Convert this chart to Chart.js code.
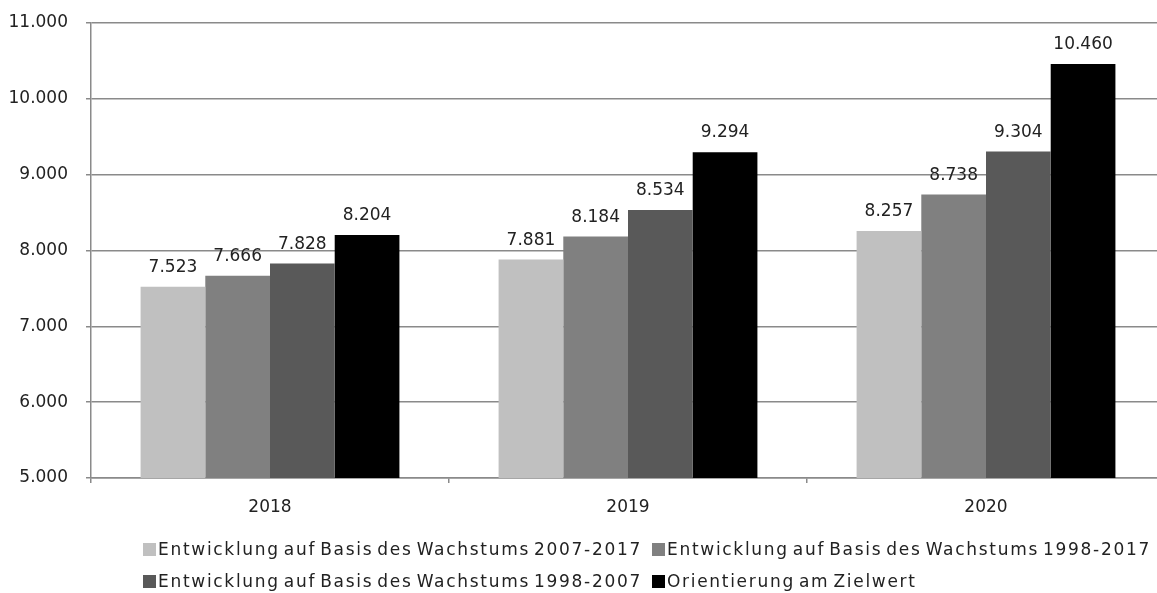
<!DOCTYPE html>
<html>
<head>
<meta charset="utf-8">
<script src="https://cdn.jsdelivr.net/npm/chart.js@4.4.1/dist/chart.umd.min.js"></script>
<style>
  html, body { margin: 0; padding: 0; background: #fff; overflow: hidden; }
  #wrap { position: relative; width: 1157px; height: 593px; overflow: hidden; }
  #legend {
    position: absolute; left: 143px; top: 539px;
    display: grid; grid-template-columns: 509px auto; row-gap: 12px;
    font-family: "DejaVu Sans", sans-serif; font-size: 17px; color: #222;
    letter-spacing: 1.7px; word-spacing: -3px;
  }
  .item { display: flex; align-items: center; height: 20px; white-space: nowrap; }
  .box { width: 13px; height: 13px; margin-right: 2px; }
</style>
</head>
<body>
<div id="wrap">
  <canvas id="graph01" width="1168" height="593"></canvas>
  <div id="legend"></div>
</div>
<script>
const years = ["2018", "2019", "2020"];
const seriesNames = [
  "Entwicklung auf Basis des Wachstums 2007-2017",
  "Entwicklung auf Basis des Wachstums 1998-2017",
  "Entwicklung auf Basis des Wachstums 1998-2007",
  "Orientierung am Zielwert",
];
const growth0717 = [7523, 7881, 8257];
const growth9817 = [7666, 8184, 8738];
const growth9807 = [7828, 8534, 9304];
const targetValue = [8204, 9294, 10460];
const barColors = ["#c0c0c0", "#808080", "#595959", "#000000"];

const fmt = (v) => v.toLocaleString("de-DE");

// value above every bar, like excel "outside end"
const valueLabels = {
  id: "valueLabels",
  afterDatasetsDraw(chart) {
    const ctx = chart.ctx;
    ctx.save();
    ctx.font = "17px 'DejaVu Sans'";
    ctx.fillStyle = "#222";
    ctx.textAlign = "center";
    ctx.textBaseline = "alphabetic";
    chart.data.datasets.forEach((ds, i) => {
      chart.getDatasetMeta(i).data.forEach((bar, j) => {
        ctx.fillText(fmt(ds.data[j]), bar.x, bar.y - 15);
      });
    });
    ctx.restore();
  },
};

const graph01 = document.getElementById("graph01");
const myChart01 = new Chart(graph01, {
  type: "bar",
  data: {
    labels: years,
    datasets: [growth0717, growth9817, growth9807, targetValue].map((d, i) => ({
      label: seriesNames[i],
      data: d,
      backgroundColor: barColors[i],
      borderWidth: 0,
      barPercentage: 1.0,
      categoryPercentage: 0.723,
    })),
  },
  options: {
    responsive: false,
    animation: false,
    layout: { padding: { top: 23, right: 3, bottom: 72, left: 0 } },
    plugins: {
      legend: { display: false },
      tooltip: { enabled: false },
    },
    scales: {
      x: {
        grid: { drawOnChartArea: false, drawTicks: true, tickLength: 5, color: "#8a8a8a", lineWidth: 1.5 },
        border: { color: "#8a8a8a", width: 1.5 },
        ticks: { color: "#222", font: { family: "DejaVu Sans", size: 17 }, padding: 14 },
        afterFit: (scale) => { scale.height = 43; },
      },
      y: {
        min: 5000,
        max: 11000,
        grid: { color: "#8a8a8a", lineWidth: 1.5, tickLength: 5 },
        border: { color: "#8a8a8a", width: 1.5 },
        ticks: {
          stepSize: 1000,
          color: "#222",
          font: { family: "DejaVu Sans", size: 17 },
          padding: 18,
          callback: (v) => fmt(v),
        },
        afterFit: (scale) => {
          scale.width = 91;
          // tick padding would otherwise push the plot top down
          scale.paddingTop = 0;
          scale.paddingBottom = 0;
        },
      },
    },
  },
  plugins: [valueLabels],
});

const legend = document.getElementById("legend");
myChart01.data.datasets.forEach((ds) => {
  const item = document.createElement("div");
  item.className = "item";
  const box = document.createElement("span");
  box.className = "box";
  box.style.background = ds.backgroundColor;
  const txt = document.createElement("span");
  txt.textContent = ds.label;
  item.appendChild(box);
  item.appendChild(txt);
  legend.appendChild(item);
});
</script>
</body>
</html>
